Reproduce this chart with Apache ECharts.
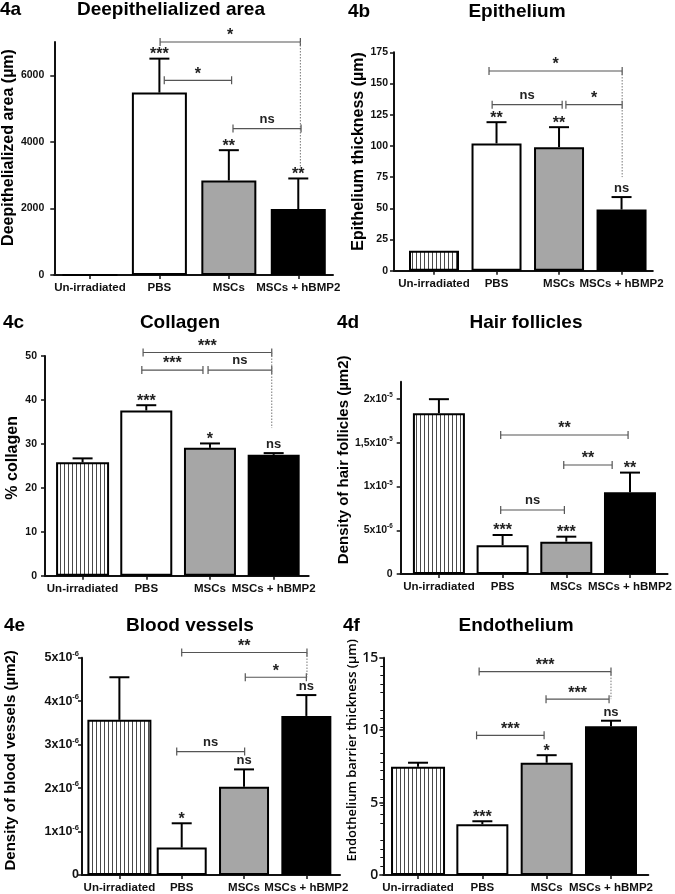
<!DOCTYPE html>
<html><head><meta charset="utf-8">
<script src="https://cdn.jsdelivr.net/npm/echarts@6/dist/echarts.min.js"></script>
<style>html,body{margin:0;padding:0;background:#fff}#c{width:675px;height:894px}</style>
</head><body><div id="c"></div>
<script>
// ---------------- DATA ----------------
const categories = ['Un-irradiated', 'PBS', 'MSCs', 'MSCs + hBMP2'];

// 4a Deepithelialized area
const areaMean = [0, 5480, 2840, 1980];
const areaSem = [0, 1020, 910, 920];
const areaMarks = ['', '***', '**', '**'];
const areaTicks = [0, 2000, 4000, 6000];
const areaTickBase = ['0', '2000', '4000', '6000'];
const areaTickExp = ['', '', '', ''];
const areaBrackets = [[1.01, 3.03, 7000, '*'], [1.07, 2.04, 5850, '*'], [2.06, 3.04, 4400, 'ns']];
const areaDotted = [[3.03, 7000, 3240]];

// 4b Epithelium
const epiMean = [16, 102, 99, 49];
const epiSem = [0, 17, 16, 10];
const epiMarks = ['', '**', '**', 'ns'];
const epiTicks = [0, 25, 50, 75, 100, 125, 150, 175];
const epiTickBase = ['0', '25', '50', '75', '100', '125', '150', '175'];
const epiTickExp = ['', '', '', '', '', '', '', ''];
const epiBrackets = [[0.88, 3.01, 160, '*'], [0.93, 2.05, 133, 'ns'], [2.11, 3.01, 133, '*']];
const epiDotted = [[3.01, 160, 75]];

// 4c Collagen
const colMean = [25.8, 37.6, 29.1, 27.5];
const colSem = [0.9, 1.2, 1.0, 0.4];
const colMarks = ['', '***', '*', 'ns'];
const colTicks = [0, 10, 20, 30, 40, 50];
const colTickBase = ['0', '10', '20', '30', '40', '50'];
const colTickExp = ['', '', '', '', '', ''];
const colBrackets = [[0.95, 2.97, 50.8, '***'], [0.93, 1.89, 46.8, '***'], [1.97, 2.97, 46.8, 'ns']];
const colDotted = [[2.97, 50.8, 33.6]];

// 4d Hair follicles
const hairMean = [18.4e-6, 3.3e-6, 3.7e-6, 9.35e-6];
const hairSem = [1.6e-6, 1.16e-6, 0.57e-6, 2.25e-6];
const hairMarks = ['', '***', '***', '**'];
const hairTicks = [0, 5e-6, 1e-5, 1.5e-5, 2e-5];
const hairTickBase = ['0', '5x10', '1x10', '1,5x10', '2x10'];
const hairTickExp = ['', '-6', '-5', '-5', '-5'];
const hairBrackets = [[0.97, 2.97, 15.9e-6, '**'], [1.96, 2.72, 12.47e-6, '**'], [0.97, 1.97, 7.32e-6, 'ns']];
const hairDotted = [];

// 4e Blood vessels
const bloodMean = [3.57e-6, 0.63e-6, 2.03e-6, 3.66e-6];
const bloodSem = [0.98e-6, 0.56e-6, 0.40e-6, 0.48e-6];
const bloodMarks = ['', '*', 'ns', 'ns'];
const bloodTicks = [0, 1e-6, 2e-6, 3e-6, 4e-6, 5e-6];
const bloodTickBase = ['0', '1x10', '2x10', '3x10', '4x10', '5x10'];
const bloodTickExp = ['', '-6', '-6', '-6', '-6', '-6'];
const bloodBrackets = [[1.0, 3.01, 5.12e-6, '**'], [2.02, 3.0, 4.55e-6, '*'], [0.92, 2.01, 2.84e-6, 'ns']];
const bloodDotted = [[3.01, 5.12e-6, 4.55e-6]];

// 4f Endothelium
const endoMean = [7.47, 3.5, 7.75, 10.26];
const endoSem = [0.28, 0.21, 0.52, 0.39];
const endoMarks = ['', '***', '*', 'ns'];
const endoTicks = [0, 5, 10, 15];
const endoTickBase = ['0', '5', '10', '15'];
const endoTickExp = ['', '', '', ''];
const endoBrackets = [[0.95, 3.0, 14.04, '***'], [1.99, 2.97, 12.14, '***'], [0.91, 1.96, 9.64, '***']];
const endoDotted = [[3.0, 14.04, 12.14]];

const panelIds = ['4a', '4b', '4c', '4d', '4e', '4f'];
const panelTitles = ['Deepithelialized area', 'Epithelium', 'Collagen', 'Hair follicles', 'Blood vessels', 'Endothelium'];
const yTitles = ['Deepithelialized area (µm)', 'Epithelium thickness (µm)', '% collagen',
  'Density of hair follicles (µm2)', 'Density of blood vessels (µm2)', 'Endothelium barrier thickness (µm)'];

const panelData = [
  {mean: areaMean, sem: areaSem, marks: areaMarks, ticks: areaTicks, tb: areaTickBase, te: areaTickExp, br: areaBrackets, dot: areaDotted},
  {mean: epiMean, sem: epiSem, marks: epiMarks, ticks: epiTicks, tb: epiTickBase, te: epiTickExp, br: epiBrackets, dot: epiDotted},
  {mean: colMean, sem: colSem, marks: colMarks, ticks: colTicks, tb: colTickBase, te: colTickExp, br: colBrackets, dot: colDotted},
  {mean: hairMean, sem: hairSem, marks: hairMarks, ticks: hairTicks, tb: hairTickBase, te: hairTickExp, br: hairBrackets, dot: hairDotted},
  {mean: bloodMean, sem: bloodSem, marks: bloodMarks, ticks: bloodTicks, tb: bloodTickBase, te: bloodTickExp, br: bloodBrackets, dot: bloodDotted},
  {mean: endoMean, sem: endoSem, marks: endoMarks, ticks: endoTicks, tb: endoTickBase, te: endoTickExp, br: endoBrackets, dot: endoDotted}
];

// ---------------- LAYOUT / STYLE ----------------
const layout = [
  {left: 52, top: 42, width: 281, height: 233, xMin: -0.514, xMax: 3.5, yMax: 7000, barW: 55, firstW: 55, nameGap: 34, nameShift: 11, nameSize: 16, tickSize: 10.5, tickMargin: 10, titleX: 171, titleY: 0, idX: 0, minor: false, thin: false},
  {left: 394, top: 52.3, width: 258.8, height: 218.4, xMin: -0.64, xMax: 3.5, yMax: 175, barW: 50, firstW: 50, nameGap: 24, nameShift: 10, nameSize: 16, tickSize: 10.5, tickMargin: 6, titleX: 517, titleY: 2, idX: 348, minor: false, thin: false},
  {left: 45, top: 356, width: 263.7, height: 219.7, xMin: -0.59, xMax: 3.55, yMax: 50, barW: 52, firstW: 53, nameGap: 24, nameShift: 8, nameSize: 16, tickSize: 10.5, tickMargin: 8, titleX: 180, titleY: 313, idX: 3, minor: false, thin: false},
  {left: 400.7, top: 381.7, width: 267.3, height: 192.3, xMin: -0.6, xMax: 3.59, yMax: 2.2e-5, barW: 52, firstW: 52, nameGap: 48, nameShift: 18, nameSize: 15, tickSize: 10.5, tickMargin: 8, titleX: 526, titleY: 313, idX: 337, minor: false, thin: false},
  {left: 82, top: 657.7, width: 258, height: 218.3, xMin: -0.6, xMax: 3.54, yMax: 5e-6, barW: 50, firstW: 64, nameGap: 64, nameShift: 6, nameSize: 15, tickSize: 12.5, tickMargin: 3, titleX: 190, titleY: 616, idX: 4, minor: false, thin: false},
  {left: 383.3, top: 657.7, width: 265, height: 218.3, xMin: -0.54, xMax: 3.58, yMax: 15, barW: 52, firstW: 54, nameGap: 24, nameShift: 16, nameSize: 13, tickSize: 14, tickMargin: 5, titleX: 516, titleY: 616, idX: 343, minor: true, thin: true}
];

const FONT = '"Liberation Sans", Arial, sans-serif';
const STAR_FONT = 'bold 16px ' + FONT;
const NS_FONT = 'bold 13px ' + FONT;

function stripePattern() {
  const c = document.createElement('canvas');
  c.width = 4; c.height = 4;
  const g = c.getContext('2d');
  g.fillStyle = '#ffffff'; g.fillRect(0, 0, 4, 4);
  g.fillStyle = '#4a4a4a'; g.fillRect(0, 0, 1, 4);
  return c;
}
const stripe = {image: stripePattern(), repeat: 'repeat'};
const barFills = [stripe, '#ffffff', '#a6a6a6', '#000000'];

const grids = [], xAxes = [], yAxes = [], series = [], titles = [];
const NP = layout.length;

layout.forEach((L, p) => {
  const D = panelData[p];
  grids.push({left: L.left, top: L.top, width: L.width, height: L.height});
  titles.push({text: panelIds[p], left: L.idX, top: L.titleY, padding: 0,
    textStyle: {fontFamily: FONT, fontWeight: 'bold', fontSize: 19, color: '#000'}});
  titles.push({text: panelTitles[p], left: L.titleX, top: L.titleY, padding: 0, textAlign: 'center',
    textStyle: {fontFamily: FONT, fontWeight: 'bold', fontSize: 19, color: '#000'}});

  xAxes[p] = {
    gridIndex: p, type: 'value', min: L.xMin, max: L.xMax,
    splitLine: {show: false},
    axisLine: {show: true, onZero: false, lineStyle: {color: '#111', width: 2}},
    axisTick: {show: true, customValues: [0, 1, 2, 3], length: 4, lineStyle: {color: '#111', width: 1.5}},
    axisLabel: {customValues: [0, 1, 2, 3], margin: 7, fontFamily: FONT, fontWeight: 'bold', fontSize: 11.5, color: '#111',
      formatter: v => categories[Math.round(v)] || ''}
  };
  // hidden twin axis (same scale) for the first-category bar, which can have its own width
  xAxes[NP + p] = {gridIndex: p, type: 'value', min: L.xMin, max: L.xMax, show: false, splitLine: {show: false}};

  const tb = D.tb, te = D.te, ticks = D.ticks;
  yAxes.push({
    gridIndex: p, type: 'value', min: 0, max: L.yMax,
    splitLine: {show: false},
    name: yTitles[p], nameLocation: 'middle', nameGap: L.nameGap, nameRotate: 90,
    nameTextStyle: {fontFamily: L.thin ? '"Open Sans", ' + FONT : FONT, fontWeight: L.thin ? 600 : 'bold',
      fontSize: L.nameSize, color: '#000', padding: [0, 0, 0, L.nameShift * 2]},
    axisLine: {show: true, onZero: false, lineStyle: {color: '#111', width: 2}},
    axisTick: {show: true, customValues: ticks, length: 4, lineStyle: {color: '#111', width: 1.5}},
    minorTick: {show: L.minor, splitNumber: 5, length: 3, lineStyle: {color: '#111', width: 1}},
    axisLabel: {customValues: ticks, margin: L.tickMargin, color: '#111',
      formatter: v => {
        let i = ticks.findIndex(t => Math.abs(t - v) <= Math.abs(L.yMax) * 1e-6);
        if (i < 0) return '';
        return te[i] ? '{b|' + tb[i] + '}{s|' + te[i] + '}' : '{b|' + tb[i] + '}';
      },
      rich: {
        b: {fontFamily: L.thin ? '"Open Sans", ' + FONT : FONT, fontWeight: L.thin ? 600 : 'bold', fontSize: L.tickSize, lineHeight: L.tickSize + 3, color: '#111'},
        s: {fontFamily: FONT, fontWeight: 'bold', fontSize: L.tickSize * 0.6, verticalAlign: 'top', color: '#111'}
      }
    }
  });

  const barItem = (m, i) => ({value: [i, m], itemStyle: {color: barFills[i], borderColor: '#000', borderWidth: 2}});
  // first-category bar (on twin axis)
  series.push({
    type: 'bar', xAxisIndex: NP + p, yAxisIndex: p, barWidth: L.firstW, z: 2, animation: false,
    data: D.mean.slice(0, 1).map((m, i) => barItem(m, i))
  });
  // remaining bars
  series.push({
    type: 'bar', xAxisIndex: p, yAxisIndex: p, barWidth: L.barW, z: 2, animation: false,
    data: D.mean.slice(1).map((m, i) => barItem(m, i + 1))
  });

  // error bars + significance marks above bars
  series.push({
    type: 'custom', xAxisIndex: p, yAxisIndex: p, z: 3, clip: false, animation: false,
    data: D.mean.map((m, i) => [i, m + D.sem[i]]),
    renderItem: (params, api) => {
      const i = params.dataIndex;
      const m = D.mean[i], s = D.sem[i];
      const children = [];
      const base = api.coord([i, m]);
      const top = api.coord([i, m + s]);
      if (s > 0) {
        children.push({type: 'line', shape: {x1: base[0], y1: base[1], x2: top[0], y2: top[1]}, style: {stroke: '#000', lineWidth: 2}});
        children.push({type: 'line', shape: {x1: top[0] - 10, y1: top[1], x2: top[0] + 10, y2: top[1]}, style: {stroke: '#000', lineWidth: 2}});
      }
      const mk = D.marks[i];
      if (mk) {
        const isNs = mk === 'ns';
        children.push({type: 'text', x: top[0], y: top[1] + (isNs ? -2 : 4),
          style: {text: mk, fill: '#222', font: isNs ? NS_FONT : STAR_FONT, align: 'center', verticalAlign: 'bottom'}});
      }
      return {type: 'group', children};
    }
  });

  // comparison brackets
  series.push({
    type: 'custom', xAxisIndex: p, yAxisIndex: p, z: 4, clip: false, animation: false,
    data: D.br.map(b => [b[0], b[2]]),
    renderItem: (params, api) => {
      const b = D.br[params.dataIndex];
      const a = api.coord([b[0], b[2]]);
      const c = api.coord([b[1], b[2]]);
      const isNs = b[3] === 'ns';
      return {type: 'group', children: [
        {type: 'line', shape: {x1: a[0], y1: a[1], x2: c[0], y2: c[1]}, style: {stroke: '#555', lineWidth: 1.2}},
        {type: 'line', shape: {x1: a[0], y1: a[1] - 4, x2: a[0], y2: a[1] + 4}, style: {stroke: '#555', lineWidth: 1.2}},
        {type: 'line', shape: {x1: c[0], y1: c[1] - 4, x2: c[0], y2: c[1] + 4}, style: {stroke: '#555', lineWidth: 1.2}},
        {type: 'text', x: (a[0] + c[0]) / 2, y: a[1] + (isNs ? -3 : 2),
          style: {text: b[3], fill: '#222', font: isNs ? NS_FONT : STAR_FONT, align: 'center', verticalAlign: 'bottom'}}
      ]};
    }
  });

  // dotted drop lines
  if (D.dot.length) {
    series.push({
      type: 'custom', xAxisIndex: p, yAxisIndex: p, z: 4, clip: false, animation: false,
      data: D.dot.map(d => [d[0], d[1]]),
      renderItem: (params, api) => {
        const d = D.dot[params.dataIndex];
        const a = api.coord([d[0], d[1]]);
        const c = api.coord([d[0], d[2]]);
        return {type: 'line', shape: {x1: a[0], y1: a[1], x2: c[0], y2: c[1]}, style: {stroke: '#777', lineWidth: 1, lineDash: [1.5, 1.5]}};
      }
    });
  }
});

const chart = echarts.init(document.getElementById('c'), null, {renderer: 'canvas'});
chart.setOption({
  animation: false,
  backgroundColor: '#fff',
  title: titles,
  grid: grids,
  xAxis: xAxes,
  yAxis: yAxes,
  series: series
});
</script>
</body></html>
